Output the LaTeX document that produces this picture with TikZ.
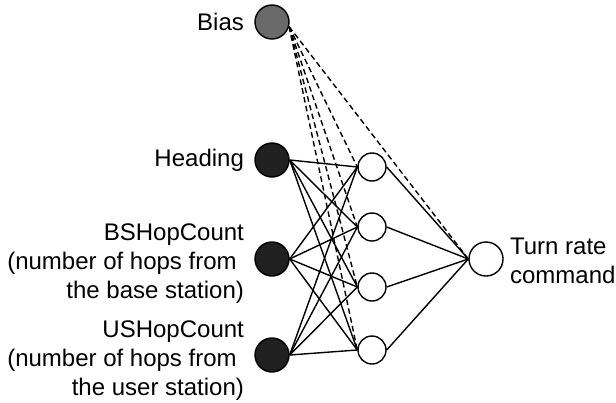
\documentclass[tikz,border=0pt]{standalone}
\usepackage{fontspec}
\setmainfont{Liberation Sans}
\usetikzlibrary{positioning}
\definecolor{biasgray}{RGB}{105,105,105}
\definecolor{infill}{RGB}{32,32,32}

\begin{document}
\begin{tikzpicture}[x=0.5pt,y=-0.5pt,font=\fontsize{12}{14.5}\selectfont,
  inp/.style={circle,draw,line width=0.7pt,fill=infill,minimum size=17pt,inner sep=0pt},
  hid/.style={circle,draw,line width=0.7pt,fill=white,minimum size=14pt,inner sep=0pt},
  lbl/.style={inner sep=0pt,align=right},
  wire/.style={line width=0.7pt},
  bwire/.style={line width=0.7pt,dash pattern=on 2.8pt off 1.7pt}]
  \useasboundingbox (0,0) rectangle (616,402);
  % bias and input layer
  \node[inp,fill=biasgray] (bias) at (272,22) {};
  \node[inp] (in1) at (272,160) {};
  \node[inp] (in2) at (272,259) {};
  \node[inp] (in3) at (272,355) {};
  \node[lbl,left=5pt of bias] (lbias) {Bias};
  \node[lbl,left=5pt of in1] (lin1) {Heading};
  \node[lbl,left=5pt of in2,yshift=-2.5pt] (lin2) {BSHopCount\\(number of hops from\kern0.3em\\the base station)};
  \node[lbl,left=5pt of in3,yshift=-3pt] (lin3) {USHopCount\\(number of hops from\kern0.3em\\the user station)};
  % hidden layer and output
  \node[hid] (h1) at (372,167) {};
  \node[hid] (h2) at (372,227) {};
  \node[hid] (h3) at (372,287) {};
  \node[hid] (h4) at (372,350) {};
  \node[inp,fill=white] (out) at (486,259) {};
  \node[lbl,align=left,right=3pt of out,yshift=-1pt] (lout) {Turn rate\\command};
  % connections
  \foreach \i in {1,2,3}
    \foreach \j in {1,2,3,4}
      \draw[wire] (in\i.east) -- (h\j.west);
  \foreach \j in {1,2,3,4} {
    \draw[wire] (h\j.east) -- (out.west);
    \draw[bwire] (bias.-15) -- (h\j.west);
  }
  \draw[bwire] (bias.-15) -- (out.west);
\end{tikzpicture}
\end{document}
